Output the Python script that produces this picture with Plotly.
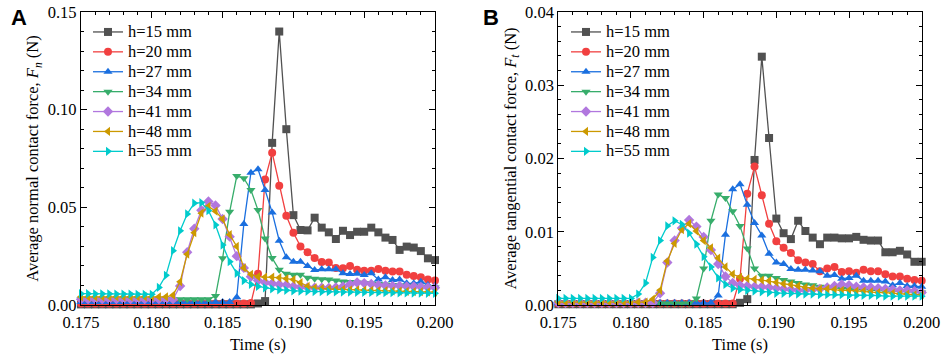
import plotly.graph_objects as go

# time axis (s)
time = [round(0.175 + 0.0005 * i, 4) for i in range(51)]
labels = ["h=15 mm", "h=20 mm", "h=27 mm", "h=34 mm", "h=41 mm", "h=48 mm", "h=55 mm"]

# Panel A: average normal contact force Fn (N)
fn_h15 = [0.0003] * 25 + [0.0008, 0.002, 0.083, 0.140, 0.090, 0.046, 0.0384, 0.0382, 0.0447, 0.0396,
          0.0372, 0.0338, 0.038, 0.0358, 0.0375, 0.0375, 0.0396, 0.0372, 0.0345, 0.0333, 0.0282,
          0.0299, 0.0294, 0.0276, 0.0239, 0.023]
fn_h20 = [0.0008] * 24 + [0.001, 0.016, 0.0643, 0.078, 0.061, 0.0457, 0.037, 0.030, 0.027, 0.024,
          0.022, 0.0218, 0.019, 0.0188, 0.020, 0.018, 0.0175, 0.0175, 0.0184, 0.0175, 0.0171,
          0.0171, 0.0155, 0.0148, 0.0142, 0.0131, 0.0125]
fn_h27 = [0.0015] * 22 + [0.004, 0.0415, 0.0677, 0.0695, 0.0589, 0.0474, 0.0329, 0.0244, 0.0222,
          0.0222, 0.020, 0.0179, 0.0183, 0.0183, 0.0183, 0.0162, 0.0159, 0.016, 0.0154, 0.0162,
          0.0131, 0.0142, 0.0128, 0.0131, 0.0111, 0.0111, 0.0119, 0.0102, 0.0098]
fn_h34 = [0.003] * 19 + [0.0046, 0.0239, 0.0478, 0.066, 0.0649, 0.0589, 0.0486, 0.034, 0.024, 0.018,
          0.016, 0.0155, 0.0155, 0.014, 0.0135, 0.0132, 0.013, 0.0125, 0.012, 0.0118, 0.0115,
          0.0112, 0.011, 0.0108, 0.0105, 0.0102, 0.01, 0.0098, 0.0096, 0.0094, 0.0092, 0.009, 0.0088]
fn_h41 = [0.003] * 14 + [0.0097, 0.027, 0.039, 0.0485, 0.053, 0.051, 0.044, 0.035, 0.025, 0.019,
          0.0145, 0.0125, 0.0115, 0.011, 0.0105, 0.0103, 0.0095, 0.0092, 0.009, 0.0088, 0.0088,
          0.0087, 0.009, 0.0095, 0.0105, 0.0115, 0.0112, 0.0108, 0.0102, 0.01, 0.0098, 0.0098,
          0.0095, 0.0095, 0.0093, 0.009, 0.0088]
fn_h48 = [0.0042] * 13 + [0.005, 0.0119, 0.026, 0.037, 0.047, 0.0505, 0.048, 0.044, 0.036, 0.030,
          0.019, 0.0157, 0.0145, 0.0143, 0.0143, 0.014, 0.0135, 0.013, 0.0115, 0.0095, 0.0088,
          0.0085, 0.0082, 0.008, 0.008, 0.0078, 0.0078, 0.0076, 0.0075, 0.0074, 0.0073, 0.0072,
          0.0071, 0.007, 0.0069, 0.0068, 0.0067, 0.0066, 0.0065]
fn_h55 = [0.0058, 0.0058, 0.0057, 0.0057, 0.0057, 0.0056, 0.0056, 0.0056, 0.0055, 0.0055, 0.0055,
          0.009, 0.0152, 0.0278, 0.038, 0.0466, 0.0521, 0.0524, 0.0483, 0.041, 0.0307, 0.0222,
          0.0162, 0.0125, 0.0105, 0.0095, 0.0088, 0.0082, 0.0078, 0.0075, 0.0072, 0.0071, 0.007,
          0.0069, 0.0068, 0.0068, 0.0067, 0.0066, 0.0066, 0.0065, 0.0065, 0.0064, 0.0064, 0.0063,
          0.0063, 0.0062, 0.0062, 0.0061, 0.0061, 0.006, 0.006]

# Panel B: average tangential contact force Ft (N)
ft_h15 = [0.0001] * 25 + [0.0003, 0.0008, 0.0198, 0.0339, 0.0228, 0.0118, 0.0098, 0.009, 0.0115,
          0.0101, 0.0092, 0.0083, 0.0092, 0.0092, 0.0091, 0.0091, 0.0093, 0.0089, 0.0088, 0.0088,
          0.0072, 0.0072, 0.0074, 0.0069, 0.0059, 0.0059]
ft_h20 = [0.0002] * 25 + [0.0036, 0.0152, 0.0189, 0.015, 0.0111, 0.0087, 0.0078, 0.0071, 0.0061,
          0.0058, 0.0056, 0.0046, 0.005, 0.0052, 0.0045, 0.0046, 0.0044, 0.0048, 0.0046, 0.0046,
          0.0042, 0.0039, 0.0039, 0.0036, 0.0034, 0.0033]
ft_h27 = [0.0003] * 22 + [0.0013, 0.0096, 0.0158, 0.0165, 0.0137, 0.0112, 0.0095, 0.007, 0.0058,
          0.0056, 0.0049, 0.0048, 0.0048, 0.0047, 0.0046, 0.004, 0.0041, 0.0036, 0.0037, 0.004,
          0.0033, 0.0033, 0.0033, 0.0032, 0.0027, 0.003, 0.0026, 0.0026, 0.0025]
ft_h34 = [0.0002] * 19 + [0.0009, 0.005, 0.0115, 0.0151, 0.0146, 0.0128, 0.0108, 0.0077, 0.005,
          0.004, 0.004, 0.0037, 0.0034, 0.0032, 0.003, 0.0028, 0.0027, 0.0025, 0.0024, 0.0023,
          0.0022, 0.0022, 0.0021, 0.0021, 0.002, 0.002, 0.0019, 0.0019, 0.0018, 0.0018, 0.0018,
          0.0017, 0.0017]
ft_h41 = [0.0003] * 14 + [0.0016, 0.0058, 0.0088, 0.0105, 0.0116, 0.0107, 0.0093, 0.0075, 0.0056,
          0.0039, 0.003, 0.0027, 0.0026, 0.0025, 0.0025, 0.0024, 0.0023, 0.0022, 0.0021, 0.002,
          0.002, 0.0021, 0.0022, 0.0024, 0.0026, 0.0028, 0.0027, 0.0025, 0.0024, 0.0024, 0.0023,
          0.0022, 0.0021, 0.002, 0.002, 0.0019, 0.0017]
ft_h48 = [0.0004] * 13 + [0.0008, 0.002, 0.006, 0.0084, 0.0103, 0.0111, 0.0101, 0.0088, 0.0078,
          0.0064, 0.0052, 0.0042, 0.0038, 0.0036, 0.0035, 0.0034, 0.0033, 0.0031, 0.0029, 0.0028,
          0.0026, 0.0024, 0.0023, 0.0022, 0.0022, 0.0021, 0.002, 0.002, 0.0019, 0.0019, 0.0018,
          0.0017, 0.0017, 0.0016, 0.0015, 0.0015, 0.0014, 0.0014]
ft_h55 = [0.0009] * 11 + [0.0015, 0.003, 0.0065, 0.0088, 0.0108, 0.0115, 0.011, 0.0098, 0.0083,
          0.0066, 0.0052, 0.0037, 0.0028, 0.0023, 0.0021, 0.002, 0.0019, 0.0018, 0.0017, 0.0016,
          0.0016, 0.0016, 0.0015, 0.0015, 0.0015, 0.0014, 0.0014, 0.0014, 0.0014, 0.0013, 0.0013,
          0.0013, 0.0013, 0.0013, 0.0012, 0.0012, 0.0012, 0.0012, 0.0012, 0.0012]

fn_series = [fn_h15, fn_h20, fn_h27, fn_h34, fn_h41, fn_h48, fn_h55]
ft_series = [ft_h15, ft_h20, ft_h27, ft_h34, ft_h41, ft_h48, ft_h55]

colors = ["#515151", "#F14040", "#1A6FDF", "#37AD6B", "#B177DE", "#CC9900", "#00CBCC"]
symbols = ["square", "circle", "triangle-up", "triangle-down", "diamond", "triangle-left", "triangle-right"]

FONT = "Liberation Serif"
LEG_TXT = "<span style='font-size:16.5px'>{}</span>"
fig = go.Figure()

for k in range(7):
    fig.add_trace(go.Scatter(x=time, y=fn_series[k], name=LEG_TXT.format(labels[k]), mode="lines+markers",
                             line=dict(color=colors[k], width=1.3),
                             marker=dict(symbol=symbols[k], size=8, color=colors[k]),
                             xaxis="x", yaxis="y", legend="legend", cliponaxis=False))
for k in range(7):
    fig.add_trace(go.Scatter(x=time, y=ft_series[k], name=LEG_TXT.format(labels[k]), mode="lines+markers",
                             line=dict(color=colors[k], width=1.3),
                             marker=dict(symbol=symbols[k], size=8, color=colors[k]),
                             xaxis="x2", yaxis="y2", legend="legend2", cliponaxis=False))

W, H = 941, 360
xd1 = [81 / W, 435 / W]
xd2 = [558.3 / W, 921.7 / W]
yd = [1 - 305 / H, 1 - 12 / H]

axis_common = dict(showline=True, linecolor="black", linewidth=1.2, mirror="ticks",
                   ticks="inside", ticklen=6, tickwidth=1.2, tickcolor="black",
                   showgrid=False, zeroline=False, automargin=False,
                   tickfont=dict(family=FONT, size=16.5, color="black"),
                   minor=dict(ticks="inside", ticklen=3, tickwidth=1.2, tickcolor="black", showgrid=False))

fig.update_layout(
    width=W, height=H,
    margin=dict(l=0, r=0, t=0, b=0, autoexpand=False),
    paper_bgcolor="white", plot_bgcolor="white",
    font=dict(family=FONT, size=16, color="black"),
    xaxis=dict(domain=xd1, range=[0.175, 0.200], dtick=0.005, tick0=0.175, tickformat=".3f",
               anchor="y", ticklabelstandoff=2,
               title=dict(text="Time (s)", font=dict(family=FONT, size=16.5), standoff=7),
               **axis_common),
    yaxis=dict(domain=yd, range=[0, 0.15], dtick=0.05, tickformat=".2f", anchor="x",
               title=dict(text="Average normal contact force, <i>F<sub>n</sub></i> (N)",
                          font=dict(family=FONT, size=16.5), standoff=4),
               **axis_common),
    xaxis2=dict(domain=xd2, range=[0.175, 0.200], dtick=0.005, tick0=0.175, tickformat=".3f",
                anchor="y2", ticklabelstandoff=2,
                title=dict(text="Time (s)", font=dict(family=FONT, size=16.5), standoff=7),
                **axis_common),
    yaxis2=dict(domain=yd, range=[0, 0.04], dtick=0.01, tickformat=".2f", anchor="x2",
                title=dict(text="Average tangential contact force, <i>F<sub>t</sub></i> (N)",
                           font=dict(family=FONT, size=16.5), standoff=4),
                **axis_common),
    legend=dict(x=88 / W, y=1 - 17 / H, xanchor="left", yanchor="top", bgcolor="rgba(0,0,0,0)",
                font=dict(family=FONT, size=13), tracegroupgap=0, itemwidth=30),
    legend2=dict(x=566 / W, y=1 - 17 / H, xanchor="left", yanchor="top", bgcolor="rgba(0,0,0,0)",
                 font=dict(family=FONT, size=13), tracegroupgap=0, itemwidth=30),
    annotations=[
        dict(text="<b>A</b>", x=9 / W, y=1 - 3 / H, xref="paper", yref="paper", xanchor="left",
             yanchor="top", showarrow=False, font=dict(family="Liberation Sans", size=22, color="black")),
        dict(text="<b>B</b>", x=481 / W, y=1 - 3 / H, xref="paper", yref="paper", xanchor="left",
             yanchor="top", showarrow=False, font=dict(family="Liberation Sans", size=22, color="black")),
    ],
)

fig.write_html("out.html", config={"displayModeBar": False},
               post_script="document.body.style.margin='0';document.body.style.overflow='hidden';")
